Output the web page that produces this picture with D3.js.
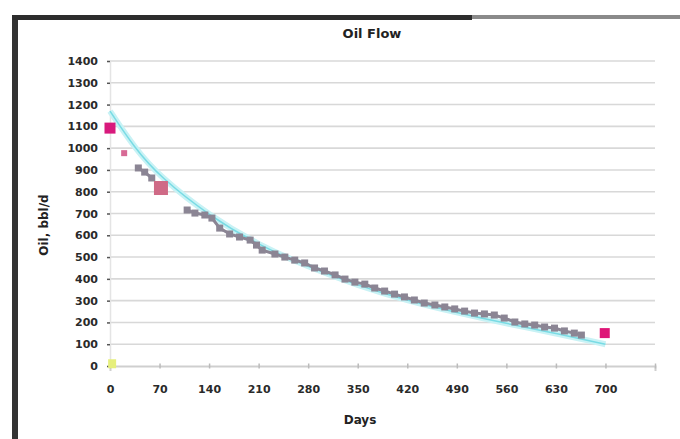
<!DOCTYPE html>
<meta charset="utf-8">
<style>
    body { margin: 0; background: #fff; }
    svg { display: block; }
    .tick text { font: bold 11px "DejaVu Sans", sans-serif; fill: #2a2a2a; }
    .grid line { stroke: #d8d8d8; stroke-width: 1.6px; }
    .title { font: bold 13px "DejaVu Sans", sans-serif; fill: #222; }
    .axis-title { font: bold 12px "DejaVu Sans", sans-serif; fill: #222; }
</style>
<svg width="680" height="439"></svg>
<script src="https://d3js.org/d3.v7.min.js"></script>
<script>
    // x: days, y: oil rate
    let xTicks = [0, 70, 140, 210, 280, 350, 420, 490, 560, 630, 700];
    let yTicks = [0, 100, 200, 300, 400, 500, 600, 700, 800, 900, 1000, 1100, 1200, 1300, 1400];

    // measured production (grey squares)
    let prodDays = [40, 49, 59, 109, 120, 134, 144, 155, 169, 183, 198, 207, 215, 233, 247, 261, 275, 289,
        303, 318, 332, 346, 360, 374, 388, 402, 416, 430, 444, 459, 473, 487, 501, 515, 529, 543, 557,
        572, 586, 600, 614, 628, 642, 656, 666];
    let prodRate = [909, 890, 863, 716, 702, 693, 679, 633, 606, 592, 578, 555, 532, 514, 500, 486, 473, 450,
        436, 418, 399, 385, 376, 358, 344, 330, 317, 303, 289, 280, 271, 262, 252, 243, 239, 234, 220,
        202, 193, 188, 179, 174, 161, 151, 142];

    // highlighted points (pink)
    let keyDays = [0, 20, 72, 699];
    let keyRate = [1092, 977, 817, 151];

    // fitted decline curve (cyan)
    let fitDays = [0, 35, 70, 140, 210, 280, 350, 420, 490, 560, 630, 700];
    let fitRate = [1170, 1000, 870, 690, 555, 455, 370, 300, 245, 195, 150, 100];

    // odd point near the origin
    let originDays = [3];
    let originRate = [8];

    let svg = d3.select("svg"),
        width = +svg.attr("width"),
        height = +svg.attr("height");

    // frame of the scanned page
    svg.append("rect").attr("x", 12).attr("y", 18).attr("width", 6).attr("height", height - 18).attr("fill", "#333");
    svg.append("rect").attr("x", 12).attr("y", 15).attr("width", 460).attr("height", 5).attr("fill", "#2d2d2d");
    svg.append("rect").attr("x", 472).attr("y", 15).attr("width", 208).attr("height", 4).attr("fill", "#8a8a8a");

    let margin = {left: 110, right: 25, top: 61, bottom: 73};

    let x = d3.scaleLinear().domain([0, 770]).range([margin.left, width - margin.right]);
    let y = d3.scaleLinear().domain([0, 1400]).range([height - margin.bottom, margin.top]);

    // gridlines
    svg.append("g").attr("class", "grid")
        .selectAll("line").data(yTicks.slice(1)).enter().append("line")
        .attr("x1", x(0)).attr("x2", x(770))
        .attr("y1", d => y(d)).attr("y2", d => y(d));

    let xAxis = svg.append("g")
        .attr("transform", "translate(0," + y(0) + ")")
        .call(d3.axisBottom(x).tickValues(xTicks.concat([770])).tickSize(5).tickPadding(14)
            .tickFormat(d => d > 700 ? "" : d));
    xAxis.select(".domain").attr("stroke", "#cfcfcf").attr("stroke-width", 2);
    xAxis.selectAll(".tick line").attr("stroke", "#bbb").attr("transform", "translate(0,-2.5)").attr("stroke-width", 1.5);

    let yAxis = svg.append("g")
        .attr("transform", "translate(" + x(0) + ",0)")
        .call(d3.axisLeft(y).tickValues(yTicks).tickSize(3).tickPadding(9).tickFormat(d3.format("d")));
    yAxis.select(".domain").attr("stroke", "#e4e4e4").attr("stroke-width", 1.5);
    yAxis.selectAll(".tick line").attr("stroke", "#555").attr("stroke-width", 1.5);

    // fitted curve
    let fit = fitDays.map((d, i) => [d, fitRate[i]]);
    let fitLine = d3.line().x(d => x(d[0])).y(d => y(d[1])).curve(d3.curveBasis);
    svg.append("path").datum(fit)
        .attr("fill", "none").attr("stroke", "#c8f2f5").attr("stroke-width", 6)
        .attr("d", fitLine);
    svg.append("path").datum(fit)
        .attr("fill", "none").attr("stroke", "#79dbe4").attr("stroke-width", 1.5)
        .attr("d", fitLine);

    // production points, joined where they run together
    let prod = prodDays.map((d, i) => [d, prodRate[i]]);
    let prodLine = d3.line().x(d => x(d[0])).y(d => y(d[1]));
    [prod.slice(0, 3), prod.slice(3)].forEach(part => {
        svg.append("path").datum(part)
            .attr("fill", "none").attr("stroke", "#8b8594").attr("stroke-width", 3)
            .attr("d", prodLine);
    });
    svg.append("g").selectAll("rect").data(prod).enter().append("rect")
        .attr("x", d => x(d[0]) - 3.5).attr("y", d => y(d[1]) - 3.5)
        .attr("width", 7).attr("height", 7).attr("fill", "#8b8594");

    // highlighted points
    let keys = keyDays.map((d, i) => [d, keyRate[i]]);
    let keyColor = ["#d8197c", "#d76a95", "#cf6a86", "#de1577"];
    let keySize = [11, 6, 14, 10];
    svg.append("g").selectAll("rect").data(keys).enter().append("rect")
        .attr("x", (d, i) => x(d[0]) - keySize[i] / 2).attr("y", (d, i) => y(d[1]) - keySize[i] / 2)
        .attr("width", (d, i) => keySize[i]).attr("height", (d, i) => keySize[i])
        .attr("fill", (d, i) => keyColor[i]);

    svg.append("g").selectAll("rect").data(originDays.map((d, i) => [d, originRate[i]])).enter().append("rect")
        .attr("x", d => x(d[0]) - 4).attr("y", d => y(d[1]) - 5)
        .attr("width", 8).attr("height", 9).attr("fill", "#e6ef7c");

    // titles
    svg.append("text").attr("class", "title").attr("x", 372).attr("y", 38)
        .attr("text-anchor", "middle").text("Oil Flow");
    svg.append("text").attr("class", "axis-title").attr("x", 360).attr("y", 424)
        .attr("text-anchor", "middle").text("Days");
    svg.append("text").attr("class", "axis-title")
        .attr("transform", "translate(48,225) rotate(-90)")
        .attr("text-anchor", "middle").text("Oil, bbl/d");
</script>
